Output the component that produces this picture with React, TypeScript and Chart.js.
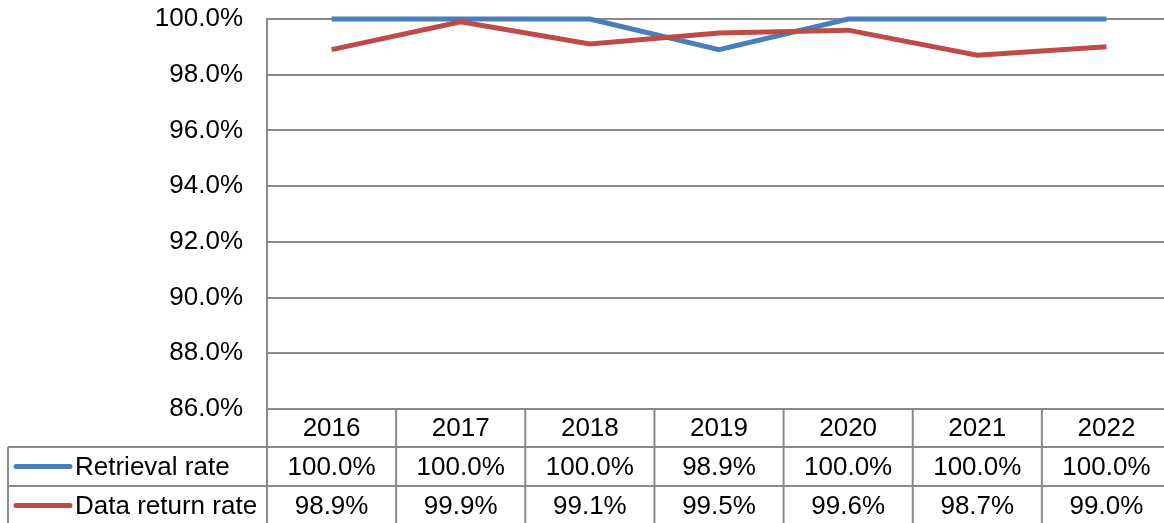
import React, { useEffect, useRef } from "react";
import { Chart, registerables } from "chart.js";

Chart.register(...registerables);

const years = ["2016", "2017", "2018", "2019", "2020", "2021", "2022"];
const retrievalRate = [1.0, 1.0, 1.0, 0.989, 1.0, 1.0, 1.0];
const dataReturnRate = [0.989, 0.999, 0.991, 0.995, 0.996, 0.987, 0.99];
const seriesNames = ["Retrieval rate", "Data return rate"];
const seriesColors = ["#4a7ebb", "#be4b48"];
const yMin = 0.86;
const yMax = 1.0;
const yStep = 0.02;

const GRID = "#8a8a8a";
const FONT = "'Liberation Sans', Arial, sans-serif";
const FONT_SIZE = 26;

const fmt = (v: number) => (v * 100).toFixed(1) + "%";

const tablePlugin = {
  id: "dataTable",
  afterDraw(chart: any) {
    const ctx = chart.ctx as CanvasRenderingContext2D;
    const xs = chart.scales.x;
    const area = chart.chartArea;
    const n = years.length;
    const colW = (area.right - area.left) / n;
    const rows = [area.bottom, area.bottom + 38, area.bottom + 77, area.bottom + 116];
    const tableLeft = 8;
    const line = (x1: number, y1: number, x2: number, y2: number) => {
      ctx.beginPath();
      ctx.moveTo(x1, y1);
      ctx.lineTo(x2, y2);
      ctx.stroke();
    };
    ctx.save();
    ctx.strokeStyle = GRID;
    ctx.lineWidth = 2;
    line(area.left, rows[0], area.right, rows[0]);
    line(tableLeft, rows[1], area.right, rows[1]);
    line(tableLeft, rows[2], area.right, rows[2]);
    line(tableLeft, rows[3] - 1, area.right, rows[3] - 1);
    line(tableLeft, rows[1], tableLeft, rows[3]);
    for (let i = 0; i <= n; i++) {
      const xx = area.left + i * colW;
      line(xx, rows[0], xx, rows[3]);
    }
    ctx.fillStyle = "#000";
    ctx.font = `${FONT_SIZE}px ${FONT}`;
    ctx.textAlign = "center";
    ctx.textBaseline = "middle";
    const series = [retrievalRate, dataReturnRate];
    years.forEach((y, i) => {
      const cx = xs.getPixelForValue(i);
      ctx.fillText(y, cx, (rows[0] + rows[1]) / 2 + 1);
      series.forEach((s, k) => {
        ctx.fillText(fmt(s[i]), cx, (rows[k + 1] + rows[k + 2]) / 2 + 1);
      });
    });
    ctx.textAlign = "left";
    series.forEach((_, k) => {
      const cy = (rows[k + 1] + rows[k + 2]) / 2;
      ctx.strokeStyle = seriesColors[k];
      ctx.lineWidth = 5;
      ctx.lineCap = "round";
      line(16, cy, 70, cy);
      ctx.fillText(seriesNames[k], 75, cy + 1);
    });
    ctx.restore();
  },
};

export default function App() {
  const ref = useRef<HTMLCanvasElement>(null);
  useEffect(() => {
    if (!ref.current) return;
    const chart = new Chart(ref.current, {
      type: "line",
      data: {
        labels: years,
        datasets: [
          {
            label: seriesNames[0],
            data: retrievalRate,
            borderColor: seriesColors[0],
            backgroundColor: seriesColors[0],
            borderWidth: 5,
            pointRadius: 0,
            tension: 0,
            clip: false as any,
            order: 2,
          },
          {
            label: seriesNames[1],
            data: dataReturnRate,
            borderColor: seriesColors[1],
            backgroundColor: seriesColors[1],
            borderWidth: 5,
            pointRadius: 0,
            tension: 0,
            clip: false as any,
            order: 1,
          },
        ],
      },
      options: {
        responsive: false,
        animation: false,
        layout: { padding: { left: 0, top: 19, right: 1, bottom: 114 } },
        plugins: { legend: { display: false }, tooltip: { enabled: false } },
        scales: {
          x: { type: "category", display: false, offset: true },
          y: {
            min: yMin,
            max: yMax,
            afterFit: (scale: any) => {
              scale.width = 267;
              scale.paddingTop = 0;
              scale.paddingBottom = 0;
            },
            ticks: {
              stepSize: yStep,
              padding: 24,
              color: "#000",
              font: { family: FONT, size: FONT_SIZE },
              callback: (v: any) => fmt(Number(v)),
            },
            grid: { color: GRID, lineWidth: 2, drawTicks: false },
            border: { display: true, color: GRID, width: 2 },
          },
        },
      },
      plugins: [tablePlugin],
    });
    return () => chart.destroy();
  }, []);
  return (
    <div
      style={{
        position: "fixed",
        left: 0,
        top: 0,
        width: 1164,
        height: 523,
        overflow: "hidden",
        background: "#fff",
      }}
    >
      <canvas ref={ref} width={1172} height={523} style={{ display: "block" }} />
    </div>
  );
}
